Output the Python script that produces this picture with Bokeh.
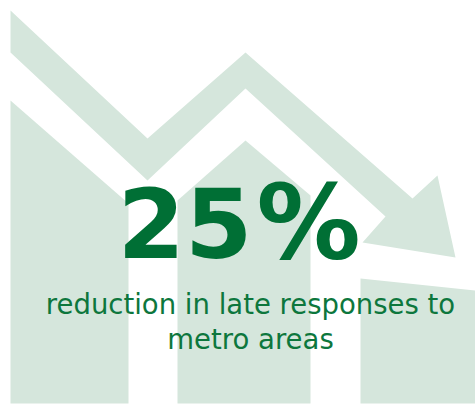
from bokeh.plotting import figure
from bokeh.models import Range1d
from bokeh.core.properties import value
from bokeh.embed import file_html
from bokeh.resources import INLINE

# --- data (pixel-space design units) ---
headline_number = "25"
headline_unit = " %"
caption_lines = ["reduction in late responses to", "metro areas"]

# background bars: top outline x / y for each bar, common base
bar_top_x = [[10, 128], [177, 245, 310], [360, 475]]
bar_top_y = [[100, 203], [200, 140, 195], [278, 290]]
bar_base = 403

# downward trend arrow outline
arrow_x = [10, 147, 245, 412, 437, 455, 362, 385, 245, 147, 10]
arrow_y = [10, 138, 52, 198, 175, 257, 242, 216, 88, 180, 52]

W, H = 475, 405
p = figure(width=W, height=H, output_backend="svg", toolbar_location=None,
           x_range=Range1d(0, W), y_range=Range1d(H, 0),
           min_border=0, outline_line_color=None, background_fill_color="white",
           border_fill_color="white")
p.axis.visible = False
p.grid.visible = False

light = "#d5e6dc"
xs, ys = [], []
for tx, ty in zip(bar_top_x, bar_top_y):
    xs.append(tx + [tx[-1], tx[0]])
    ys.append(ty + [bar_base, bar_base])
p.patches(xs, ys, fill_color=light, line_color=None)
p.patch(arrow_x, arrow_y, fill_color=light, line_color=None)

dark = "#006f35"
p.text(x=[252], y=[222], text=[headline_number], text_font=value("DejaVu Sans"),
       text_font_style="bold", text_font_size="97px", text_color=dark,
       text_align="right", text_baseline="alphabetic")
p.text(x=[256], y=[222], text=[headline_unit], text_font=value("DejaVu Sans"),
       text_font_style="bold", text_font_size="104px", text_color=dark,
       text_align="left", text_baseline="alphabetic")
p.text(x=[250, 250], y=[303, 338], text=caption_lines, text_font=value("DejaVu Sans"),
       text_font_size="27.5px", text_color="#0d773d",
       text_align="center", text_baseline="alphabetic")

open("out.html", "w").write(file_html(p, INLINE))
